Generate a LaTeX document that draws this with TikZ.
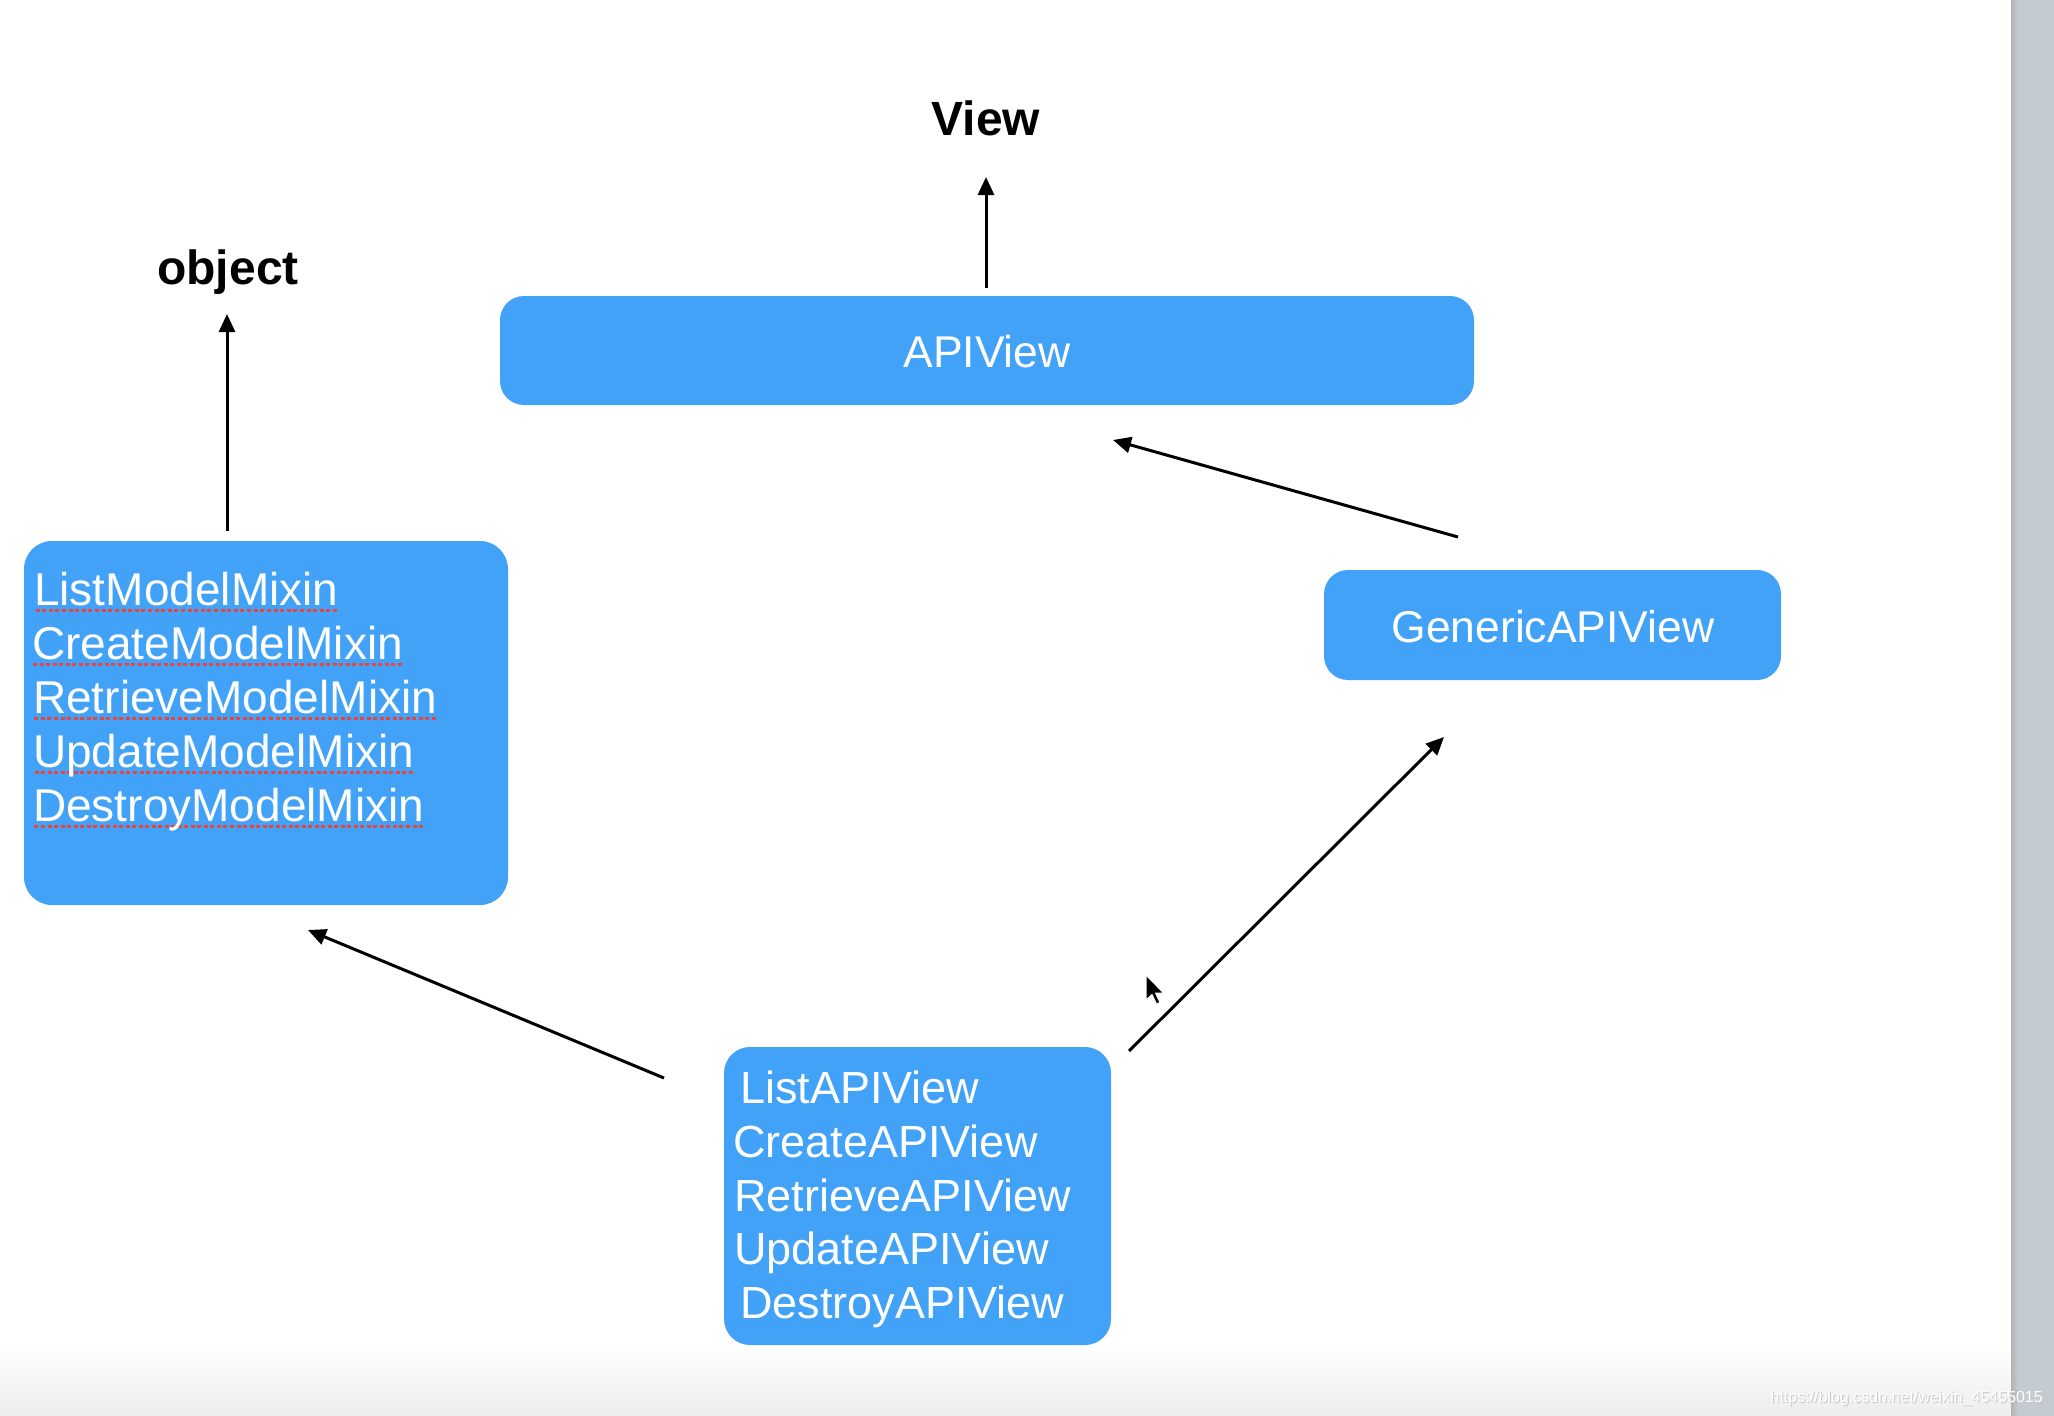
\documentclass[tikz,border=0pt]{standalone}
\usepackage{fontspec}
\setmainfont{Liberation Sans}
\usetikzlibrary{arrows.meta}
\definecolor{boxblue}{RGB}{66,162,247}
\definecolor{spell}{RGB}{232,70,60}
\definecolor{barcol}{RGB}{197,203,211}
\newsavebox\spbox
\newcommand\spellmark[1]{\sbox\spbox{#1}\rlap{\raisebox{-6.5pt}{\color{spell}\hbox to \wd\spbox{\xleaders\hbox to 6.5pt{\hss\rule{4pt}{3pt}\hss}\hfill}}}\usebox\spbox}
\begin{document}
\begin{tikzpicture}[x=1pt,y=-1pt,
  blk/.style={fill=boxblue, draw=none, rounded corners=24pt, inner sep=0pt, rectangle},
  lbl/.style={text=white, font=\fontsize{45}{54}\selectfont, anchor=base west, inner sep=0pt},
  mlbl/.style={lbl, font=\fontsize{46}{54}\selectfont},
  ctr/.style={text=white, font=\fontsize{44.5}{54}\selectfont, anchor=base, inner sep=0pt},
  cls/.style={font=\fontsize{48}{58}\selectfont\bfseries, anchor=base, inner sep=0pt},
  inh/.style={line width=3pt, -{Triangle[length=18pt,width=16pt]}}]
\useasboundingbox (0,0) rectangle (2054,1416);
% background
\fill[white] (0,0) rectangle (2054,1416);
\shade[top color=white, bottom color=black!7] (0,1345) rectangle (2011,1416);
\fill[barcol] (2011,0) rectangle (2054,1416);
\shade[left color=black!30, right color=barcol] (2011,0) rectangle (2018,1416);

% class names
\node[cls] (view) at (986,135) {View};
\node[cls] (object) at (228,284) {object};

% boxes
\node[blk, minimum width=974pt, minimum height=109pt] (api) at (987,350.5) {};
\node[ctr] (apit) at (987,367) {APIView};

\node[blk, minimum width=457pt, minimum height=110pt] (gen) at (1552.5,625) {};
\node[ctr] (gent) at (1553,642) {GenericAPIView};

\node[blk, rounded corners=28pt, minimum width=484pt, minimum height=364pt] (mix) at (266,723) {};
\node[mlbl] (m1) at (34,605) {\spellmark{ListModelMixin}};
\node[mlbl] (m2) at (32,659) {\spellmark{CreateModelMixin}};
\node[mlbl] (m3) at (33,713) {\spellmark{RetrieveModelMixin}};
\node[mlbl] (m4) at (33,767) {\spellmark{UpdateModelMixin}};
\node[mlbl] (m5) at (33,821) {\spellmark{DestroyModelMixin}};

\node[blk, rounded corners=26pt, minimum width=387pt, minimum height=298pt] (sub) at (917.5,1196) {};
\node[lbl] (s1) at (740,1103) {ListAPIView};
\node[lbl] (s2) at (733,1157) {CreateAPIView};
\node[lbl] (s3) at (734,1211) {RetrieveAPIView};
\node[lbl] (s4) at (734,1264) {UpdateAPIView};
\node[lbl] (s5) at (740,1318) {DestroyAPIView};

% connector end points
\coordinate (a1s) at (986,288);   \coordinate (a1e) at (986,177);
\coordinate (a2s) at (227,531);   \coordinate (a2e) at (227,314);
\coordinate (a3s) at (1458,537);  \coordinate (a3e) at (1113,440);
\coordinate (a4s) at (1129,1051); \coordinate (a4e) at (1444,737);
\coordinate (a5s) at (664,1078);  \coordinate (a5e) at (308,930);

\draw[inh] (a1s) -- (a1e);
\draw[inh] (a2s) -- (a2e);
\draw[inh] (a3s) -- (a3e);
\draw[inh] (a4s) -- (a4e);
\draw[inh] (a5s) -- (a5e);

% mouse pointer
\fill[black, draw=white, line width=1pt] (1146,975) -- ++(0,25) -- ++(6,-5.5) -- ++(4.5,9.5) -- ++(3.5,-1.5) -- ++(-4.5,-9.5) -- ++(8,0) -- cycle;

% watermark
\node[anchor=base east, font=\fontsize{16}{18}\selectfont, text=black!22, inner sep=0pt] (wmshadow) at (2044,1403) {https://blog.csdn.net/weixin\_45455015};
\node[anchor=base east, font=\fontsize{16}{18}\selectfont, text=white, inner sep=0pt] (wm) at (2043,1402) {https://blog.csdn.net/weixin\_45455015};
\end{tikzpicture}
\end{document}
